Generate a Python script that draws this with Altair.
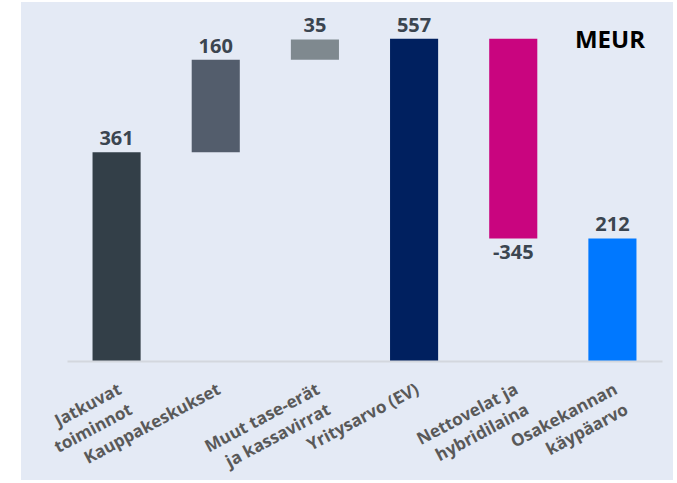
import altair as alt
import pandas as pd

# Waterfall: from continuing operations to equity fair value (MEUR)
categories = [
    "Jatkuvat\ntoiminnot",
    "Kauppakeskukset",
    "Muut tase-erät\nja kassavirrat",
    "Yritysarvo (EV)",
    "Nettovelat ja\nhybridilaina",
    "Osakekannan\nkäypäarvo",
]
values = [361, 160, 35, 557, -345, 212]
is_total = [False, False, False, True, False, True]
colors = ["#333f48", "#535d6c", "#7f898f", "#00205f", "#c9057f", "#0078ff"]

# Running totals for the floating bars
rows = []
running = 0
for cat, val, tot in zip(categories, values, is_total):
    if tot:
        start, end = 0, val
        running = val
    else:
        start, end = running, running + val
        running = end
    rows.append({
        "cat": cat,
        "start": start,
        "end": end,
        "value": val,
        "label": f"{val}",
        "top": max(start, end),
        "bottom": min(start, end),
        "neg": val < 0,
    })
df = pd.DataFrame(rows)

FONT = "Open Sans"

x_enc = alt.X(
    "cat:N",
    sort=categories,
    scale=alt.Scale(paddingInner=0.515, paddingOuter=0.2575),
    axis=alt.Axis(
        title=None,
        labelAngle=332,
        labelAlign="right",
        labelBaseline="top",
        labelExpr="split(datum.label, '\\n')",
        labelFont=FONT,
        labelFontSize=17,
        labelFontWeight="bold",
        labelColor="#595959",
        labelLineHeight=23,
        labelPadding=20,
        ticks=False,
        tickSize=0,
        domainColor="#d3d7de",
        domainWidth=2,
        labelOverlap=False,
        labelLimit=0,
        zindex=1,
    ),
)
y_scale = alt.Scale(domain=[0, 600], nice=False, zero=True)

base = alt.Chart(df)

panel = alt.Chart(pd.DataFrame({"k": [0]})).mark_rect(color="#e4eaf5").encode(
    x=alt.value(-46), x2=alt.value(606), y=alt.value(-12), y2=alt.value(466)
)

bars = base.mark_bar().encode(
    x=x_enc,
    y=alt.Y("start:Q", scale=y_scale, axis=None),
    y2="end:Q",
    color=alt.Color("cat:N", sort=categories,
                    scale=alt.Scale(domain=categories, range=colors), legend=None),
)

label_style = dict(font=FONT, fontSize=20, fontWeight="bold", color="#3b4550")

labels_up = base.transform_filter("!datum.neg").mark_text(
    baseline="bottom", dy=-3, **label_style
).encode(x=alt.X("cat:N", sort=categories), y=alt.Y("top:Q", scale=y_scale), text="label:N")

labels_down = base.transform_filter("datum.neg").mark_text(
    baseline="top", dy=5, **label_style
).encode(x=alt.X("cat:N", sort=categories), y=alt.Y("bottom:Q", scale=y_scale), text="label:N")

unit = alt.Chart(pd.DataFrame({"t": ["MEUR"]})).mark_text(
    font=FONT, fontSize=24, fontWeight="bold", color="#000000", align="center", baseline="middle"
).encode(x=alt.value(543), y=alt.value(27), text="t:N")

chart = alt.layer(panel, bars, labels_up, labels_down, unit).properties(
    width=595,
    height=347,
    autosize=alt.AutoSizeParams(type="none"),
    padding={"left": 67, "top": 14, "right": 15, "bottom": 122},
    background="#ffffff",
).configure_view(stroke=None)

chart.save("out.html", embed_options={"renderer": "svg", "actions": False})
